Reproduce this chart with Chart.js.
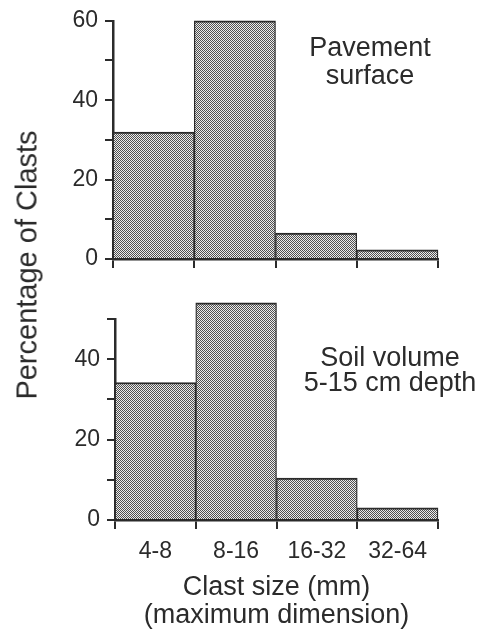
<!DOCTYPE html>
<html>
<head>
<meta charset="utf-8">
<script src="https://cdn.jsdelivr.net/npm/chart.js@4.4.1/dist/chart.umd.min.js"></script>
<style>
  html, body { margin: 0; padding: 0; background: #fff; }
  #wrap { position: relative; width: 485px; height: 637px; overflow: hidden;
          font-family: "Liberation Sans", Arial, Helvetica, sans-serif; color: #2b2b2b; }
  canvas { position: absolute; left: 0; }
  .note { position: absolute; text-align: center; font-size: 27px; white-space: nowrap; }
  #ytitle { position: absolute; width: 320px; height: 29px; line-height: 29px; font-size: 29px;
            text-align: center; left: 27px; top: 265px; white-space: nowrap;
            transform: translate(-50%, -50%) rotate(-90deg); }
</style>
</head>
<body>
<div id="wrap">
  <canvas id="chart-surface" width="485" height="280" style="top:0"></canvas>
  <canvas id="chart-soil" width="485" height="347" style="top:290px"></canvas>
  <div class="note" style="left:370px; top:33px; line-height:28px; transform:translateX(-50%)">Pavement<br>surface</div>
  <div class="note" style="left:390px; top:345px; line-height:25px; transform:translateX(-50%)">Soil volume<br>5-15 cm depth</div>
  <div id="ytitle">Percentage of Clasts</div>
</div>
<script>
// Clast size classes (mm)
let sizeClasses = ['4-8', '8-16', '16-32', '32-64'];
// Percentage of clasts per class
let surfaceData = [32, 60, 6.5, 2.3];
let soilData = [34.2, 54, 10.4, 3];
// Y axis tick limits
let surfaceMax = 60;
let soilMax = 50;

let ink = '#2b2b2b';
let fontFamily = '"Liberation Sans", Arial, Helvetica, sans-serif';

// fine dot screen used as bar fill
function stipple(ctx) {
    let c = document.createElement('canvas');
    c.width = 2; c.height = 2;
    let g = c.getContext('2d');
    g.fillStyle = '#ececec';
    g.fillRect(0, 0, 2, 2);
    g.fillStyle = '#505050';
    g.fillRect(0, 0, 1, 1);
    g.fillRect(1, 1, 1, 1);
    return ctx.createPattern(c, 'repeat');
}

function histogram(canvasId, values, yMax, opts) {
    let ctx = document.getElementById(canvasId).getContext('2d');
    return new Chart(ctx, {
        type: 'bar',
        data: {
            labels: sizeClasses,
            datasets: [{
                data: values,
                backgroundColor: stipple(ctx),
                borderColor: ink,
                borderWidth: { top: 2, left: 1.3, right: 1.3, bottom: 0 },
                borderSkipped: false,
                categoryPercentage: 1,
                barPercentage: 1,
                clip: false
            }]
        },
        options: {
            responsive: false,
            animation: false,
            events: [],
            layout: { padding: { top: opts.padTop, right: 47, left: 0, bottom: 0 } },
            plugins: { legend: { display: false }, tooltip: { enabled: false } },
            scales: {
                x: {
                    offset: true,
                    grid: { offset: true, drawOnChartArea: false, drawTicks: true, tickLength: 9, color: ink, lineWidth: 2 },
                    border: { display: true, color: ink, width: 2.5 },
                    ticks: {
                        display: opts.showLabels,
                        color: ink,
                        padding: 9,
                        maxRotation: 0,
                        font: { family: fontFamily, size: 23 }
                    },
                    title: {
                        display: opts.showLabels,
                        text: ['Clast size (mm)', '(maximum dimension)'],
                        color: ink,
                        font: { family: fontFamily, size: 27, lineHeight: 28 / 27 },
                        padding: { top: 0, bottom: 7 }
                    },
                    afterFit: function (s) { s.height = opts.xHeight; }
                },
                y: {
                    min: 0,
                    max: yMax,
                    grid: { drawOnChartArea: false, drawTicks: true, tickLength: 8, color: ink, lineWidth: 2 },
                    border: { display: true, color: ink, width: 2.5 },
                    ticks: {
                        stepSize: 10,
                        color: ink,
                        padding: 7,
                        font: { family: fontFamily, size: 23 },
                        callback: function (v) { return v % 20 === 0 ? v : ''; }
                    },
                    afterFit: function (s) { s.width = opts.yWidth; }
                }
            }
        }
    });
}

let chartSurface = histogram('chart-surface', surfaceData, surfaceMax,
    { padTop: 17, xHeight: 21, yWidth: 113, showLabels: false });

let chartSoil = histogram('chart-soil', soilData, soilMax,
    { padTop: 29, xHeight: 117, yWidth: 115, showLabels: true });
</script>
</body>
</html>
